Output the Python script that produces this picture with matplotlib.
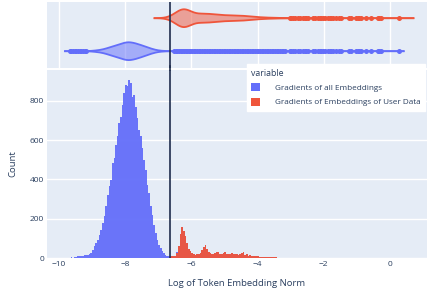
import numpy as np
import matplotlib
matplotlib.use('Agg')
import matplotlib.pyplot as plt
from matplotlib.patches import Patch

plt.rcParams['font.family'] = ['Open Sans', 'DejaVu Sans']

# histogram bins (width 0.05), first bin centre at -9.675
bin_start = -9.675
bin_width = 0.05

# Gradients of all Embeddings, bins from -9.675 to -6.375
blue_counts = [2, 4, 2, 4, 6, 8, 9, 11, 12, 14,
               16, 17, 20, 25, 40, 60, 75, 93, 115, 144,
               180, 212, 263, 322, 364, 398, 483, 508, 576, 619,
               686, 720, 780, 839, 881, 875, 905, 890, 820, 830,
               771, 712, 652, 619, 559, 500, 449, 373, 330, 263,
               220, 170, 127, 93, 68, 51, 34, 25, 17, 12,
               8, 10, 6, 4, 5, 30, 3]

# Gradients of Embeddings of User Data, bins from -6.675 to 0.275
red_offset = 60
red_counts = [2, 6, 8, 10, 12, 25, 60, 120, 158, 140,
              110, 75, 45, 36, 25, 18, 16, 22, 18, 25,
              40, 58, 68, 45, 32, 24, 20, 19, 28, 32,
              30, 22, 20, 24, 30, 20, 18, 22, 24, 20,
              18, 19, 17, 18, 26, 30, 16, 19, 12, 13,
              11, 10, 9, 10, 8, 7, 6, 5, 5, 4,
              4, 4, 3, 3, 3,
              3, 2, 2, 2, 1, 2, 0, 0, 2, 1,
              2, 1, 0, 1, 1, 0, 2, 1, 1, 2,
              0, 0, 1, 1, 0, 1, 2, 1, 1, 1,
              0, 1, 2, 1, 1, 0, 1, 0, 1, 1,
              0, 0, 0, 0, 1, 1, 0, 0, 1, 1,
              1, 1, 0, 0, 1, 0, 0, 1, 0, 0,
              0, 1, 1, 1, 0, 0, 0, 0, 0, 0,
              0, 0, 0, 0, 1]

threshold = -6.63
series_names = ['Gradients of all Embeddings', 'Gradients of Embeddings of User Data']
colors = ['#636EFA', '#EF553B']
x_ticks = [-10, -8, -6, -4, -2, 0]
y_ticks = [0, 200, 400, 600, 800]

n_bins = max(len(blue_counts), red_offset + len(red_counts))
centers = bin_start + bin_width * np.arange(n_bins)
blue = np.zeros(n_bins)
blue[:len(blue_counts)] = blue_counts
red = np.zeros(n_bins)
red[red_offset:red_offset + len(red_counts)] = red_counts
all_emb = np.maximum(blue, red)   # user data is a subset of all embeddings


def violin(ax, weights, pos, color):
    x = centers[weights > 0]
    w = weights[weights > 0]
    n = w.sum()
    mean = (x * w).sum() / n
    std = np.sqrt((w * (x - mean) ** 2).sum() / n)
    cw = np.cumsum(w) / n
    q1 = x[np.searchsorted(cw, 0.25)]
    q3 = x[np.searchsorted(cw, 0.75)]
    iqr = q3 - q1
    bw = 1.059 * min(std, iqr / 1.349) * n ** -0.2
    grid = np.linspace(x.min() - 2 * bw, x.max() + 2 * bw, 800)
    dens = (w[None, :] * np.exp(-0.5 * ((grid[:, None] - x[None, :]) / bw) ** 2)).sum(axis=1)
    dens = dens / dens.max() * 0.27
    ax.fill_between(grid, pos - dens, pos + dens, facecolor=color, alpha=0.5, lw=0)
    ax.plot(grid, pos + dens, color=color, lw=1.3)
    ax.plot(grid, pos - dens, color=color, lw=1.3)
    lo, hi = q1 - 1.5 * iqr, q3 + 1.5 * iqr
    out = x[(x < lo) | (x > hi)]
    ax.plot(out, np.full(len(out), pos), 'o', color=color, ms=3.6, mew=0)


fig = plt.figure(figsize=(4.3, 2.91), dpi=100)
ax_top = fig.add_axes([0.1093, 0.7674, 0.8837, 0.2268])
ax = fig.add_axes([0.1093, 0.1134, 0.8837, 0.646])

for a in (ax_top, ax):
    a.set_facecolor('#E5ECF6')
    for s in a.spines.values():
        s.set_visible(False)
    a.set_xlim(-10.36, 1.12)
    a.set_axisbelow(True)

# marginal violins
violin(ax_top, all_emb, 0, colors[0])
violin(ax_top, red, 1, colors[1])
ax_top.set_ylim(-0.5, 1.5)
ax_top.set_xticks(x_ticks)
ax_top.set_yticks([])
ax_top.tick_params(length=0, labelbottom=False)
ax_top.grid(axis='x', color='white', lw=1.0)

# histogram
ax.bar(centers, all_emb, width=bin_width, color=colors[0], lw=0, alpha=0.95)
ax.bar(centers, red, width=bin_width, color=colors[1], lw=0, alpha=0.95)
ax.set_ylim(0, 957)
ax.set_xticks(x_ticks)
ax.set_yticks(y_ticks)
ax.grid(axis='y', color='white', lw=1.0)
ax.tick_params(length=0, labelsize=6.0, labelcolor='#2a3f5f', pad=2)
ax.set_xlabel('Log of Token Embedding Norm', fontsize=6.8, color='#2a3f5f', labelpad=8)
ax.set_ylabel('Count', fontsize=6.8, color='#2a3f5f', labelpad=9)

for a in (ax_top, ax):
    a.axvline(threshold, color='#1f2d4d', lw=1.2, zorder=5)
ax.axvline(threshold, ymin=1.0, ymax=1.02, color='#1f2d4d', lw=1.2, clip_on=False, zorder=5)

handles = [Patch(facecolor=c, edgecolor='none') for c in colors]
leg = fig.legend(handles, series_names, title='variable', loc='upper left',
                 bbox_to_anchor=(0.574, 0.78), fontsize=5.9, title_fontsize=6.3,
                 frameon=True, fancybox=False, framealpha=1, edgecolor='white',
                 handlelength=1.1, handleheight=1.1, handletextpad=1.8,
                 labelspacing=0.7, borderpad=0.55, borderaxespad=0, alignment='left')
for t in leg.get_texts():
    t.set_color('#2a3f5f')
leg.get_title().set_color('#2a3f5f')

fig.savefig('out.png', dpi=100)
